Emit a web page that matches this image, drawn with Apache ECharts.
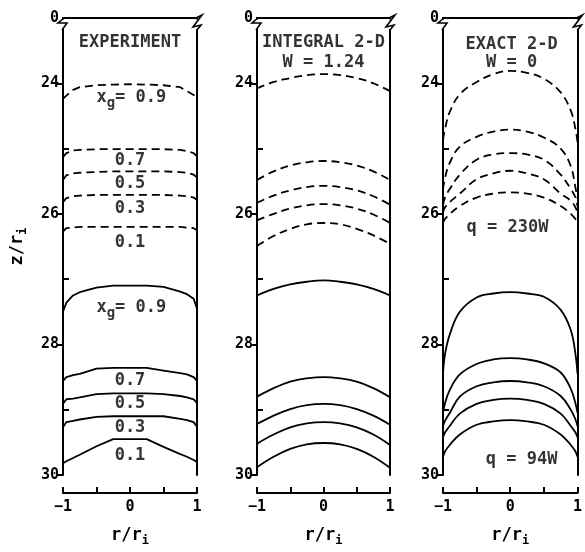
<!DOCTYPE html>
<html>
<head>
<meta charset="utf-8">
<script src="https://cdn.jsdelivr.net/npm/echarts@6/dist/echarts.min.js"></script>
<style>
  html, body { margin: 0; padding: 0; background: #fff; }
  #main { width: 585px; height: 552px; }
</style>
</head>
<body>
<div id="main"></div>
<script>
// 字体 / 颜色
var FONT = 'DejaVu Sans Mono';
var INK = '#000';
var WEIGHT = 'bold';

// r/ri 取样点
var rExp = [-1, -0.95, -0.85, -0.75, -0.5, -0.25, 0, 0.25, 0.5, 0.75, 0.85, 0.95, 1];
var rInt = [-1, -0.75, -0.5, -0.25, 0, 0.25, 0.5, 0.75, 1];
var rExact = [-1, -0.97, -0.9, -0.75, -0.5, -0.25, 0, 0.25, 0.5, 0.75, 0.9, 0.97, 1];

// EXPERIMENT (z/ri)
var expDash09 = [24.24, 24.19, 24.1, 24.06, 24.03, 24.02, 24.015, 24.02, 24.03, 24.06, 24.12, 24.18, 24.22];
var expDash07 = [25.13, 25.07, 25.03, 25.02, 25.01, 25.01, 25.01, 25.01, 25.01, 25.02, 25.04, 25.07, 25.12];
var expDash05 = [25.48, 25.41, 25.38, 25.37, 25.36, 25.35, 25.35, 25.35, 25.35, 25.36, 25.37, 25.4, 25.44];
var expDash03 = [25.82, 25.76, 25.73, 25.72, 25.71, 25.71, 25.71, 25.71, 25.71, 25.72, 25.73, 25.75, 25.79];
var expDash01 = [26.27, 26.22, 26.21, 26.2, 26.2, 26.2, 26.2, 26.2, 26.2, 26.2, 26.21, 26.22, 26.25];
var expSolid09 = [27.5, 27.36, 27.25, 27.2, 27.13, 27.1, 27.1, 27.1, 27.12, 27.19, 27.23, 27.3, 27.45];
var expSolid07 = [28.56, 28.5, 28.47, 28.45, 28.37, 28.36, 28.36, 28.36, 28.4, 28.44, 28.46, 28.5, 28.56];
var expSolid05 = [28.91, 28.84, 28.83, 28.81, 28.76, 28.75, 28.75, 28.75, 28.76, 28.79, 28.81, 28.84, 28.9];
var expSolid03 = [29.27, 29.19, 29.17, 29.15, 29.11, 29.1, 29.1, 29.1, 29.1, 29.14, 29.16, 29.19, 29.26];
var expSolid01 = [29.82, 29.79, 29.74, 29.69, 29.56, 29.45, 29.45, 29.45, 29.57, 29.68, 29.72, 29.77, 29.8];

// INTEGRAL 2-D, W = 1.24
var intDash = [
    [24.08, 23.98, 23.92, 23.875, 23.86, 23.875, 23.92, 24.0, 24.12],
    [25.48, 25.35, 25.26, 25.21, 25.19, 25.21, 25.26, 25.35, 25.48],
    [25.83, 25.72, 25.64, 25.59, 25.57, 25.59, 25.64, 25.73, 25.86],
    [26.1, 26.0, 25.92, 25.87, 25.85, 25.87, 25.92, 26.01, 26.14],
    [26.49, 26.34, 26.23, 26.16, 26.14, 26.16, 26.23, 26.33, 26.46]
];
var intSolid = [
    [27.25, 27.15, 27.08, 27.04, 27.02, 27.04, 27.08, 27.15, 27.25],
    [28.8, 28.67, 28.57, 28.52, 28.5, 28.52, 28.57, 28.67, 28.81],
    [29.22, 29.09, 28.99, 28.93, 28.91, 28.93, 28.99, 29.09, 29.23],
    [29.52, 29.38, 29.27, 29.21, 29.19, 29.21, 29.27, 29.38, 29.54],
    [29.88, 29.72, 29.6, 29.53, 29.51, 29.53, 29.6, 29.72, 29.89]
];

// EXACT 2-D, W = 0
var exactDash = [
    [24.87, 24.7, 24.44, 24.17, 23.98, 23.86, 23.81, 23.84, 23.93, 24.14, 24.42, 24.7, 24.9],
    [25.63, 25.45, 25.22, 24.97, 24.82, 24.74, 24.71, 24.74, 24.83, 25.0, 25.27, 25.6, 25.76],
    [25.86, 25.75, 25.62, 25.4, 25.17, 25.09, 25.07, 25.09, 25.17, 25.4, 25.62, 25.75, 25.88],
    [25.98, 25.9, 25.82, 25.69, 25.47, 25.38, 25.34, 25.38, 25.47, 25.69, 25.8, 25.9, 26.0],
    [26.14, 26.08, 26.0, 25.88, 25.75, 25.69, 25.67, 25.69, 25.75, 25.88, 26.0, 26.08, 26.14]
];
var exactSolid = [
    [28.45, 28.15, 27.85, 27.5, 27.28, 27.22, 27.2, 27.22, 27.27, 27.47, 27.78, 28.15, 28.45],
    [29.05, 28.9, 28.7, 28.46, 28.3, 28.23, 28.21, 28.23, 28.29, 28.43, 28.68, 28.9, 29.05],
    [29.25, 29.17, 29.05, 28.8, 28.64, 28.58, 28.56, 28.58, 28.64, 28.79, 29.0, 29.15, 29.25],
    [29.42, 29.35, 29.25, 29.06, 28.91, 28.85, 28.83, 28.85, 28.91, 29.06, 29.25, 29.35, 29.42],
    [29.72, 29.64, 29.54, 29.38, 29.23, 29.18, 29.16, 29.18, 29.23, 29.38, 29.54, 29.64, 29.72]
];

// 图中文字 [text, r, z]
var expNotes = [
    ['EXPERIMENT', 0, 23.38],
    ['x{sub|g}= 0.9', 0.02, 24.22], ['0.7', 0, 25.18], ['0.5', 0, 25.53], ['0.3', 0, 25.92], ['0.1', 0, 26.44],
    ['x{sub|g}= 0.9', 0.02, 27.43], ['0.7', 0, 28.56], ['0.5', 0, 28.91], ['0.3', 0, 29.27], ['0.1', 0, 29.7]
];
var intNotes = [['INTEGRAL 2-D', 0, 23.38], ['W = 1.24', 0, 23.68]];
var exactNotes = [['EXACT 2-D', 0.02, 23.4], ['W = 0', 0.02, 23.68], ['q = 230W', -0.04, 26.21], ['q = 94W', 0.17, 29.77]];

var yLabelValues = [23, 24, 26, 28, 30];

// 三个坐标系
var gridPos = [
    {left: 63, width: 134},
    {left: 257, width: 133},
    {left: 443, width: 135}
];

var richSub = {
    sub: {fontFamily: FONT, fontWeight: WEIGHT, fontSize: 12, color: INK, padding: [11, 0, 0, 0]}
};

var grids = [], xAxes = [], yAxes = [], series = [];

gridPos.forEach(function (g, i) {
    grids.push({left: g.left, width: g.width, top: 18, height: 462});
    // 下方 r/ri 轴
    xAxes.push({
        gridIndex: i, type: 'value', min: -1, max: 1, interval: 0.5, position: 'bottom', offset: 18,
        axisLine: {onZero: false, lineStyle: {color: INK, width: 2}},
        axisTick: {inside: true, length: 6, lineStyle: {color: INK, width: 2}},
        axisLabel: {
            margin: 7, color: INK, fontFamily: FONT, fontWeight: WEIGHT, fontSize: 15,
            formatter: function (v) { return v === -1 ? '−1' : (v === 0 ? '0' : (v === 1 ? '1' : '')); }
        },
        splitLine: {show: false},
        name: 'r/r{sub|i}', nameLocation: 'middle', nameGap: 31,
        nameTextStyle: {color: INK, fontFamily: FONT, fontWeight: WEIGHT, fontSize: 17, rich: richSub}
    });
    // 顶边
    xAxes.push({
        gridIndex: i, type: 'value', min: -1, max: 1, position: 'top',
        axisLine: {onZero: false, lineStyle: {color: INK, width: 2}},
        axisTick: {show: false}, axisLabel: {show: false}, splitLine: {show: false}
    });
    // 左边 z/ri 轴
    yAxes.push({
        gridIndex: i, type: 'value', inverse: true, min: 23, max: 30, interval: 1, position: 'left',
        axisLine: {onZero: false, lineStyle: {color: INK, width: 2}},
        axisTick: {length: 6, customValues: [24, 26, 28, 30], lineStyle: {color: INK, width: 2}},
        axisLabel: {
            margin: 4, color: INK, fontFamily: FONT, fontWeight: WEIGHT, fontSize: 15, customValues: yLabelValues,
            formatter: function (v) { return v === 23 ? '0' : String(v); }
        },
        splitLine: {show: false},
        name: i === 0 ? 'z/r{sub|i}' : '', nameLocation: 'middle', nameRotate: 90, nameGap: 34,
        nameTextStyle: {color: INK, fontFamily: FONT, fontWeight: WEIGHT, fontSize: 17, rich: richSub}
    });
    // 次刻度 (向内)
    yAxes.push({
        gridIndex: i, type: 'value', inverse: true, min: 23, max: 30, interval: 1, position: 'left',
        axisLine: {show: false, onZero: false},
        axisTick: {inside: true, length: 6, customValues: [25, 27, 29], lineStyle: {color: INK, width: 2}},
        axisLabel: {show: false}, splitLine: {show: false}
    });
    // 右边
    yAxes.push({
        gridIndex: i, type: 'value', inverse: true, min: 23, max: 30, position: 'right',
        axisLine: {onZero: false, lineStyle: {color: INK, width: 2}},
        axisTick: {show: false}, axisLabel: {show: false}, splitLine: {show: false}
    });
});

function curve(i, r, z, dashed, smooth) {
    return {
        type: 'line', xAxisIndex: 2 * i, yAxisIndex: 3 * i,
        data: r.map(function (v, k) { return [v, z[k]]; }),
        symbol: 'none', smooth: smooth ? 0.4 : false, silent: true,
        lineStyle: {color: INK, width: 1.8, type: dashed ? [8, 5] : 'solid'}
    };
}

function notes(i, list) {
    return {
        type: 'scatter', xAxisIndex: 2 * i, yAxisIndex: 3 * i, symbolSize: 0, silent: true,
        data: list.map(function (n) { return [n[1], n[2], n[0]]; }),
        label: {
            show: true, position: 'inside', color: INK, fontFamily: FONT, fontWeight: WEIGHT, fontSize: 17,
            formatter: function (p) { return p.data[2]; },
            rich: {sub: {fontFamily: FONT, fontWeight: WEIGHT, fontSize: 14, color: INK, padding: [12, 0, 0, 0]}}
        }
    };
}

[expDash09, expDash07, expDash05, expDash03, expDash01].forEach(function (z) {
    series.push(curve(0, rExp, z, true, false));
});
[expSolid09, expSolid07, expSolid05, expSolid03, expSolid01].forEach(function (z) {
    series.push(curve(0, rExp, z, false, false));
});
intDash.forEach(function (z) { series.push(curve(1, rInt, z, true, true)); });
intSolid.forEach(function (z) { series.push(curve(1, rInt, z, false, true)); });
exactDash.forEach(function (z) { series.push(curve(2, rExact, z, true, true)); });
exactSolid.forEach(function (z) { series.push(curve(2, rExact, z, false, true)); });
series.push(notes(0, expNotes));
series.push(notes(1, intNotes));
series.push(notes(2, exactNotes));

var myChart = echarts.init(document.getElementById('main'));
myChart.setOption({
    animation: false,
    backgroundColor: '#fff',
    grid: grids,
    xAxis: xAxes,
    yAxis: yAxes,
    series: series
});

// 轴断开的折线符号
var breaks = [];
gridPos.forEach(function (g, i) {
    var x0 = myChart.convertToPixel({xAxisIndex: 2 * i}, -1);
    var x1 = myChart.convertToPixel({xAxisIndex: 2 * i}, 1);
    var y0 = myChart.convertToPixel({yAxisIndex: 3 * i}, 23);
    breaks.push(
        {type: 'line', shape: {x1: x0, y1: y0 + 1.5, x2: x0, y2: y0 + 11}, style: {stroke: '#fff', lineWidth: 4}, z: 100},
        {type: 'line', shape: {x1: x1, y1: y0 + 1.5, x2: x1, y2: y0 + 11}, style: {stroke: '#fff', lineWidth: 4}, z: 100},
        {type: 'polyline', shape: {points: [[x0 + 1, y0], [x0 - 5, y0 + 5], [x0 + 4, y0 + 5], [x0 - 1, y0 + 12]]},
            style: {stroke: INK, lineWidth: 1.6, fill: null}, z: 101},
        {type: 'polyline', shape: {points: [[x1 - 1, y0], [x1 + 5, y0 - 3], [x1 - 4, y0 + 9], [x1 + 4, y0 + 7], [x1, y0 + 12]]},
            style: {stroke: INK, lineWidth: 1.6, fill: null}, z: 101}
    );
});
myChart.setOption({graphic: breaks});
</script>
</body>
</html>
